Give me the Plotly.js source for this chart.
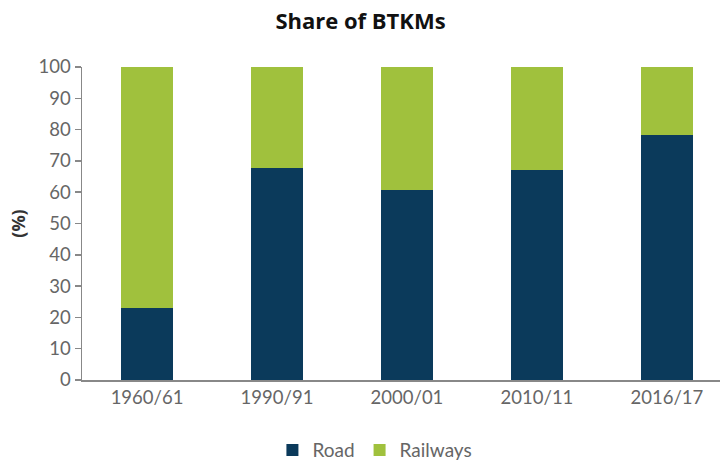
<!DOCTYPE html>
<html>
<head>
<meta charset="utf-8">
<script src="https://cdn.plot.ly/plotly-3.0.1.min.js"></script>
<style>html,body{margin:0;padding:0;background:#fff;}#chart{width:721px;height:463px;}</style>
</head>
<body>
<div id="chart"></div>
<script>
const categories = ["1960/61", "1990/91", "2000/01", "2010/11", "2016/17"];
const road = [23.0, 67.7, 60.6, 67.0, 78.2];
const railways = [77.0, 32.3, 39.4, 33.0, 21.8];
const yTicks = [0, 10, 20, 30, 40, 50, 60, 70, 80, 90, 100];

const font = "Lato, 'Open Sans', sans-serif";
const traces = [
  {type: "bar", name: "Road", x: categories, y: road, marker: {color: "#0b3a5b"}, width: 0.4},
  {type: "bar", name: "Railways", x: categories, y: railways, marker: {color: "#a0c13d"}, width: 0.4}
];
const layout = {
  width: 721, height: 463,
  barmode: "stack",
  margin: {l: 82, r: 1, t: 67, b: 83},
  paper_bgcolor: "#fff", plot_bgcolor: "#fff",
  title: {text: "<b>Share of BTKMs</b>", x: 0.5, xanchor: "center", yref: "container", y: 0.955, yanchor: "middle",
          font: {family: "'Open Sans', sans-serif", size: 22, color: "#111"}},
  xaxis: {type: "category", range: [-0.5, 4.408], showline: true, linecolor: "#888", linewidth: 1.5,
          ticks: "", tickfont: {family: font, size: 18.5, color: "#666"}, showgrid: false, fixedrange: true},
  yaxis: {range: [0, 100], tickvals: yTicks, showline: true, linecolor: "#888", linewidth: 1.5,
          ticks: "outside", ticklen: 6, tickcolor: "#888", tickwidth: 1.5,
          tickfont: {family: font, size: 18.5, color: "#666"}, showgrid: false, zeroline: false,
          title: {text: "<b>(%)</b>", font: {family: "'Open Sans', sans-serif", size: 18, color: "#333"}, standoff: 8}},
  legend: {orientation: "h", xref: "container", x: 0.52, xanchor: "center", yref: "container", y: 0.028, yanchor: "middle",
           font: {family: font, size: 19, color: "#666"}, traceorder: "normal", itemwidth: 30},
  showlegend: true
};
Plotly.newPlot("chart", traces, layout, {displayModeBar: false, staticPlot: true});
</script>
</body>
</html>
